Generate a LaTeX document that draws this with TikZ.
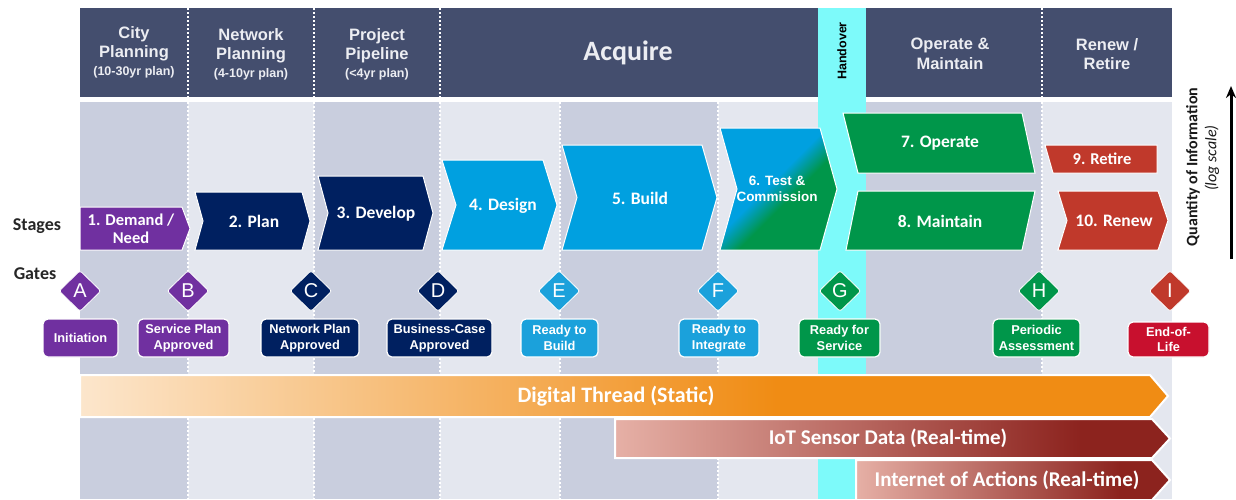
\documentclass[tikz,border=0pt]{standalone}
\usepackage{fontspec}
\setmainfont{Liberation Sans}
\newfontfamily\calfont{Carlito}
\usetikzlibrary{shapes.geometric,arrows.meta}
\newcommand\fsz[2]{\fontsize{#1}{#2}\selectfont}
\definecolor{hdr}{HTML}{444E6E}
\definecolor{hdrtext}{HTML}{ECEDF2}
\definecolor{colD}{HTML}{C9CEDE}
\definecolor{colL}{HTML}{E4E7EF}
\definecolor{cyanH}{HTML}{7DFAFA}
\definecolor{spurple}{HTML}{7030A0}
\definecolor{snavy}{HTML}{002060}
\definecolor{sblue}{HTML}{00A0E0}
\definecolor{gblue}{HTML}{1BA1DB}
\definecolor{sgreen}{HTML}{00964A}
\definecolor{sred}{HTML}{C0392B}
\definecolor{eolred}{HTML}{C8102E}
\definecolor{peach}{HTML}{FCE6CC}
\definecolor{orangeD}{HTML}{F08C14}
\definecolor{pinkL}{HTML}{E6B0A6}
\definecolor{redD}{HTML}{8C231E}
\pgfdeclarehorizontalshading{dthread}{100bp}{color(0bp)=(peach); color(25bp)=(peach); color(57bp)=(orangeD); color(100bp)=(orangeD)}
\pgfdeclarehorizontalshading{iotsh}{100bp}{color(0bp)=(pinkL); color(25bp)=(pinkL); color(67bp)=(redD); color(100bp)=(redD)}
\pgfdeclarehorizontalshading{bluegreen}{100bp}{color(0bp)=(sblue); color(46bp)=(sblue); color(56bp)=(sgreen); color(100bp)=(sgreen)}
\begin{document}
\begin{tikzpicture}[x=1pt,y=-1pt,
  stagetxt/.style={text=white, font=\calfont\bfseries\fsz{17.5}{19}, align=center, inner sep=0},
  gate/.style={diamond, aspect=1.05, minimum width=42, minimum height=41, inner sep=0, draw=white, line width=0.8, rounded corners=2.5, text=white, font=\fsz{20}{22}},
  gatelbl/.style={rounded corners=5, draw=white, line width=1.2, text=white, font=\bfseries\fsz{12.8}{15.5}, align=center, inner sep=0, minimum height=38},
  hdrtxt/.style={text=hdrtext, font=\bfseries\fsz{16.5}{19.5}, align=center, inner sep=0},
  stageshape/.style={draw=white, line width=1},
  band/.style={draw=white, line width=2},
  bandtxt/.style={text=white, font=\calfont\bfseries\fsz{21}{24}, inner sep=0},
  sepline/.style={white, line width=2, dash pattern=on 2pt off 2pt},
  sidetxt/.style={text=black!85, font=\calfont\bfseries\fsz{18}{20}, inner sep=0}
]
\useasboundingbox (0,0) rectangle (1236,499);
\fill[white] (0,0) rectangle (1236,499);
% header and body backgrounds
\fill[hdr] (80,8) rectangle (1172,97);
\fill[colD] (80,102) rectangle (188,499);
\fill[colL] (188,102) rectangle (314,499);
\fill[colD] (314,102) rectangle (440,499);
\fill[colL] (440,102) rectangle (560,499);
\fill[colD] (560,102) rectangle (718,499);
\fill[colL] (718,102) rectangle (818,499);
\fill[colD] (866,102) rectangle (1042,499);
\fill[colL] (1042,102) rectangle (1172,499);
\fill[cyanH] (818,8) rectangle (866,499);
% separators
\foreach \x in {188,314,440,1042} \draw[sepline] (\x,8) -- (\x,97);
\foreach \x in {188,314,440,560,718,1042} \draw[sepline] (\x,102) -- (\x,499);
% header texts
\node[hdrtxt] (hCity) at (134,52) {City\\Planning\\[-2pt]{\fsz{12.5}{15}\bfseries(10-30yr plan)}};
\node[hdrtxt] (hNet) at (251,54) {Network\\Planning\\[-2pt]{\fsz{12.5}{15}\bfseries(4-10yr plan)}};
\node[hdrtxt] (hProj) at (377,54) {Project\\Pipeline\\[-2pt]{\fsz{12.5}{15}\bfseries(<4yr plan)}};
\node[text=hdrtext, font=\calfont\bfseries\fsz{28}{30}, inner sep=0] (hAcq) at (628,53) {Acquire};
\node[rotate=90, text=black, font=\bfseries\fsz{12.5}{14}, inner sep=0] (hHand) at (842,51) {Handover};
\node[hdrtxt] (hOM) at (950,54) {Operate \&\\Maintain};
\node[hdrtxt] (hRR) at (1107,54) {Renew /\\Retire};
% side labels
\node[sidetxt] (lStages) at (37,226) {Stages};
\node[sidetxt] (lGates) at (35,274) {Gates};
\node[rotate=90, text=black!90, font=\calfont\bfseries\fsz{16}{17}, inner sep=0] (qinfo) at (1193,167) {Quantity of Information};
\node[rotate=90, text=black!90, font=\calfont\itshape\fsz{16}{17}, inner sep=0] (logsc) at (1212,158) {(log scale)};
\coordinate (arrB) at (1231,259);
\coordinate (arrT) at (1231,86);
\draw[-{Stealth[length=12,width=10]}, line width=3] (arrB) -- (arrT);
% stages
\fill[spurple, stageshape] (80,207) -- (182,207) -- (190,228.5) -- (182,250) -- (80,250) -- cycle;
\node[stagetxt, font=\calfont\bfseries\fsz{16.5}{18}] (s1) at (131,228.5) {1. Demand /\\Need};
\fill[snavy, stageshape] (195,192) -- (302,192) -- (310,221) -- (302,250) -- (195,250) -- (203,221) -- cycle;
\node[stagetxt] (s2) at (254,221) {2. Plan};
\fill[snavy, stageshape] (318,176) -- (423,176) -- (433,213) -- (423,250) -- (318,250) -- (328,213) -- cycle;
\node[stagetxt] (s3) at (376,214) {3. Develop};
\fill[sblue, stageshape] (442,160) -- (543,160) -- (557,205) -- (543,250) -- (442,250) -- (456,205) -- cycle;
\node[stagetxt] (s4) at (503,206) {4. Design};
\fill[sblue, stageshape] (562,145) -- (702,145) -- (717,197.5) -- (702,250) -- (562,250) -- (577,197.5) -- cycle;
\node[stagetxt] (s5) at (640,198) {5. Build};
\shade[shading=bluegreen, shading angle=-45] (720,128) -- (820,128) -- (837,189) -- (820,250) -- (720,250) -- (737,189) -- cycle;
\draw[stageshape] (720,128) -- (820,128) -- (837,189) -- (820,250) -- (720,250) -- (737,189) -- cycle;
\node[stagetxt, font=\bfseries\fsz{13.5}{16}] (s6) at (777,189) {6. Test \&\\Commission};
\fill[sgreen, stageshape] (843,113) -- (1022,113) -- (1035,173) -- (858,173) -- cycle;
\node[stagetxt] (s7) at (940,143) {7. Operate};
\fill[sgreen, stageshape] (858,191) -- (1035,191) -- (1022,250) -- (846,250) -- cycle;
\node[stagetxt] (s8) at (940,221) {8. Maintain};
\fill[sred, stageshape] (1045,145) -- (1157,145) -- (1157,173) -- (1053,173) -- cycle;
\node[stagetxt, font=\calfont\bfseries\fsz{16.5}{18}] (s9) at (1102,159) {9. Retire};
\fill[sred, stageshape] (1058,191) -- (1158,191) -- (1168,220.5) -- (1158,250) -- (1058,250) -- (1067,220.5) -- cycle;
\node[stagetxt] (s10) at (1114,221) {10. Renew};
% gates
\node[gate, fill=spurple] (gA) at (80,291) {A};
\node[gate, fill=spurple] (gB) at (188,291) {B};
\node[gate, fill=snavy] (gC) at (311,291) {C};
\node[gate, fill=snavy] (gD) at (438,291) {D};
\node[gate, fill=gblue] (gE) at (559,291) {E};
\node[gate, fill=gblue] (gF) at (718,291) {F};
\node[gate, fill=sgreen] (gG) at (840,291) {G};
\node[gate, fill=sgreen] (gH) at (1039,291) {H};
\node[gate, fill=sred] (gI) at (1170,291) {I};
% gate labels
\node[gatelbl, fill=spurple, minimum width=75] (lA) at (80.5,338) {Initiation};
\node[gatelbl, fill=spurple, minimum width=91] (lB) at (183.5,338) {Service Plan\\Approved};
\node[gatelbl, fill=snavy, minimum width=98] (lC) at (310,338) {Network Plan\\Approved};
\node[gatelbl, fill=snavy, minimum width=105] (lD) at (439.5,338) {Business-Case\\Approved};
\node[gatelbl, fill=gblue, minimum width=77] (lE) at (559.5,338) {Ready to\\Build};
\node[gatelbl, fill=gblue, minimum width=80] (lF) at (719,338) {Ready to\\Integrate};
\node[gatelbl, fill=sgreen, minimum width=81] (lG) at (839.5,338) {Ready for\\Service};
\node[gatelbl, fill=sgreen, minimum width=87] (lH) at (1036.5,338) {Periodic\\Assessment};
\node[gatelbl, fill=eolred, minimum width=81, minimum height=35] (lI) at (1168.5,339.5) {End-of-\\Life};
% bands
\shade[shading=dthread] (80,375) -- (1150,375) -- (1168,396) -- (1150,417) -- (80,417) -- cycle;
\draw[band] (80,375) -- (1150,375) -- (1168,396) -- (1150,417) -- (80,417) -- cycle;
\node[bandtxt, font=\calfont\bfseries\fsz{22}{24}] (dt) at (616,396) {Digital Thread (Static)};
\shade[shading=iotsh] (615,419) -- (1152,419) -- (1170,438.5) -- (1152,458) -- (615,458) -- cycle;
\draw[band] (615,419) -- (1152,419) -- (1170,438.5) -- (1152,458) -- (615,458) -- cycle;
\node[bandtxt] (iot) at (888,438.5) {IoT Sensor Data (Real-time)};
\shade[shading=iotsh] (856,460) -- (1152,460) -- (1170,480) -- (1152,500) -- (856,500) -- cycle;
\draw[band] (856,460) -- (1152,460) -- (1170,480) -- (1152,500) -- (856,500) -- cycle;
\node[bandtxt] (ioa) at (1007,480) {Internet of Actions (Real-time)};
\end{tikzpicture}
\end{document}
